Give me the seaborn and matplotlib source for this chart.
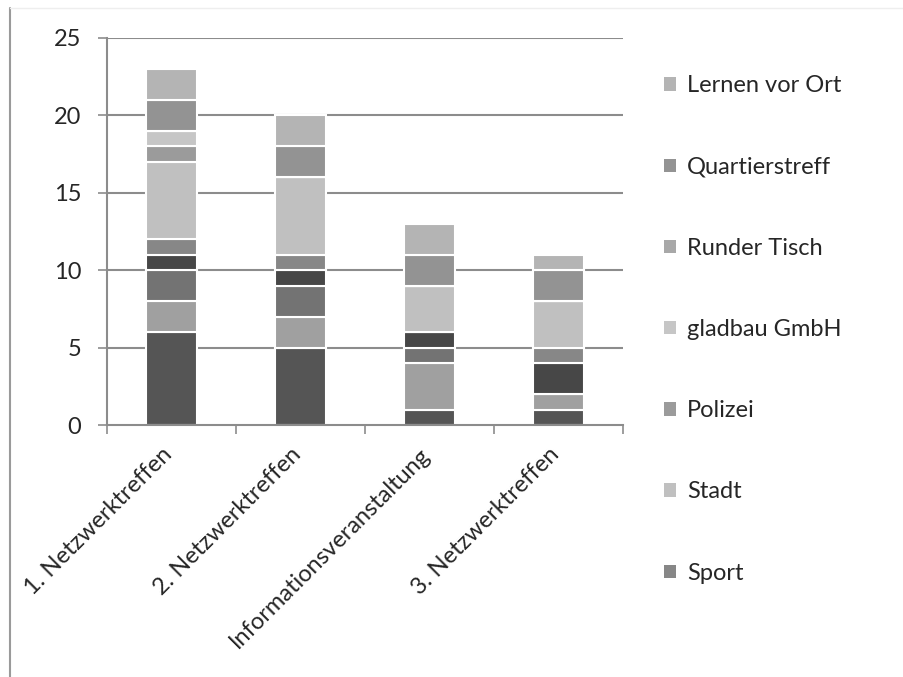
import numpy as np
import pandas as pd
import matplotlib
matplotlib.use("Agg")
import matplotlib.pyplot as plt
import matplotlib.transforms as mtrans
import seaborn as sns
from matplotlib.patches import Patch
from matplotlib.lines import Line2D

events = ["1. Netzwerktreffen", "2. Netzwerktreffen",
          "Informationsveranstaltung", "3. Netzwerktreffen"]

# series from bottom to top (the first four are cut off in the original legend)
serie_1 = [6, 5, 1, 1]
serie_2 = [2, 2, 3, 1]
serie_3 = [2, 2, 1, 0]
serie_4 = [1, 1, 1, 2]
sport = [1, 1, 0, 1]
stadt = [5, 5, 3, 3]
polizei = [1, 0, 0, 0]
gladbau = [1, 0, 0, 0]
runder_tisch = [0, 0, 0, 0]
quartierstreff = [2, 2, 2, 2]
lernen_vor_ort = [2, 2, 2, 1]

names = ["Serie 1", "Serie 2", "Serie 3", "Serie 4", "Sport", "Stadt",
         "Polizei", "gladbau GmbH", "Runder Tisch", "Quartierstreff",
         "Lernen vor Ort"]
values = [serie_1, serie_2, serie_3, serie_4, sport, stadt, polizei,
          gladbau, runder_tisch, quartierstreff, lernen_vor_ort]
colors = ["#555555", "#a0a0a0", "#737373", "#474747", "#878787", "#c0c0c0",
          "#9b9b9b", "#c6c6c6", "#a8a8a8", "#939393", "#b4b4b4"]
legend_names = ["Lernen vor Ort", "Quartierstreff", "Runder Tisch",
                "gladbau GmbH", "Polizei", "Stadt", "Sport"]

sns.set_style("white")
plt.rcParams["font.family"] = ["Lato", "DejaVu Sans"]
fs = 17

fig = plt.figure(figsize=(9.04, 6.77), dpi=100)
ax = fig.add_axes([107 / 904, 1 - 425 / 677, (623 - 107) / 904, (425 - 38) / 677])

grid_c = "#8c8c8c"
for y in [5, 10, 15, 20, 25]:
    ax.axhline(y, color=grid_c, lw=1.5, zorder=0)

bottom = np.zeros(len(events))
for name, vals, col in zip(names, values, colors):
    df = pd.DataFrame({"event": events, "n": vals})
    sns.barplot(data=df, x="event", y="n", color=col, bottom=bottom,
                width=0.39, edgecolor="white", linewidth=1.5,
                saturation=1, errorbar=None, ax=ax, zorder=2)
    bottom = bottom + np.array(vals)

ax.set_ylim(0, 25)
ax.set_xlim(-0.5, 3.5)
ax.set_yticks([0, 5, 10, 15, 20, 25])
ax.set_xlabel("")
ax.set_ylabel("")
for s in ["top", "right"]:
    ax.spines[s].set_visible(False)
ax.spines["left"].set_color(grid_c)
ax.spines["bottom"].set_color(grid_c)
ax.spines["left"].set_linewidth(1.5)
ax.spines["bottom"].set_linewidth(1.5)

ax.tick_params(axis="y", left=True, length=6.5, width=1.2, color=grid_c,
               labelsize=fs, pad=12)
ax.set_xticks([-0.5, 0.5, 1.5, 2.5, 3.5], minor=True)
ax.tick_params(axis="x", which="minor", bottom=True, length=6.5, width=1.2,
               color=grid_c)
ax.tick_params(axis="x", which="major", bottom=False, labelsize=fs, pad=10)
shift = mtrans.ScaledTranslation(-10 / 100, 0, fig.dpi_scale_trans)
for lbl in ax.get_xticklabels():
    lbl.set_rotation(45)
    lbl.set_ha("right")
    lbl.set_rotation_mode("anchor")
    lbl.set_transform(lbl.get_transform() + shift)

handles = [Patch(facecolor=colors[names.index(n)], edgecolor="none")
           for n in legend_names]
fig.legend(handles, legend_names, loc="upper left",
           bbox_to_anchor=(655 / 904, 1 - 66 / 677), frameon=False,
           fontsize=fs, labelspacing=2.55, handlelength=0.5,
           handleheight=0.5, handletextpad=0.45, borderaxespad=0)

# chart frame edge
fig.add_artist(Line2D([10 / 904, 10 / 904], [0, 1 - 8 / 677],
                      color="#9a9a9a", lw=1.5))
fig.add_artist(Line2D([10 / 904, 1], [1 - 8 / 677, 1 - 8 / 677],
                      color="#eeeeee", lw=1))

fig.savefig("out.png", dpi=100)
